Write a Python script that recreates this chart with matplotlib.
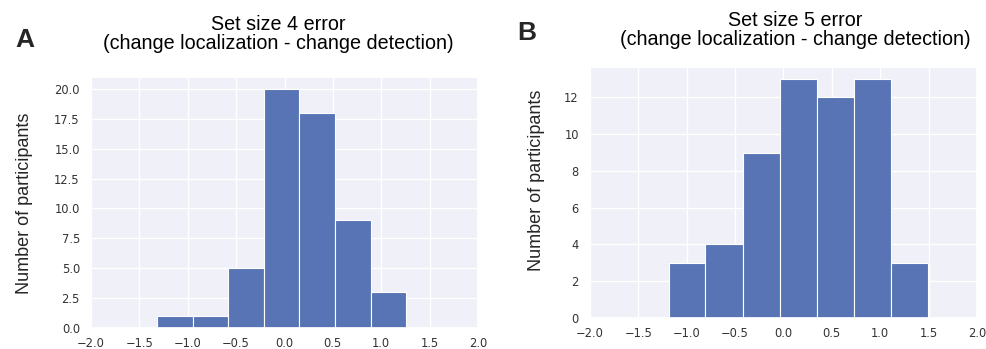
import numpy as np
import matplotlib.pyplot as plt
import seaborn as sns

sns.set_theme(style="darkgrid", rc={"axes.facecolor": "#eff0f8"})

# bin edges and counts
edges_4 = [-1.314, -0.949, -0.581, -0.212, 0.153, 0.522, 0.891, 1.256]
counts_4 = [1, 1, 5, 20, 18, 9, 3]

edges_5 = [-1.187, -0.808, -0.422, -0.040, 0.346, 0.729, 1.115, 1.497]
counts_5 = [3, 4, 9, 13, 12, 13, 3]

x_ticks = [-2.0, -1.5, -1.0, -0.5, 0.0, 0.5, 1.0, 1.5, 2.0]
title_4 = "Set size 4 error\n(change localization - change detection)"
title_5 = "Set size 5 error\n(change localization - change detection)"

W, H = 987, 349
fig = plt.figure(figsize=(W / 100, H / 100), dpi=100)

def px_axes(l, t, r, b):
    return fig.add_axes([l / W, 1 - b / H, (r - l) / W, (b - t) / H])

ax1 = px_axes(91, 77, 478, 328)
ax2 = px_axes(590, 67, 977, 318)

bar_col = "#5874b4"

def draw_hist(ax, edges, counts):
    edges = np.array(edges)
    ax.bar(edges[:-1], counts, width=np.diff(edges), align="edge",
           color=bar_col, edgecolor="white", linewidth=0.8)
    ax.set_xlim(-2.0, 2.0)
    ax.set_xticks(x_ticks)
    ax.set_ylim(0, max(counts) * 1.05)
    ax.tick_params(labelsize=8.3, colors="#333333", pad=2)
    ax.tick_params(axis="x", pad=0.5)
    ax.grid(color="white", linewidth=1.0)

draw_hist(ax1, edges_4, counts_4)
draw_hist(ax2, edges_5, counts_5)
ax1.set_yticks([0, 2.5, 5, 7.5, 10, 12.5, 15, 17.5, 20])
ax1.set_yticklabels(["0.0", "2.5", "5.0", "7.5", "10.0", "12.5", "15.0", "17.5", "20.0"])
ax2.set_yticks([0, 2, 4, 6, 8, 10, 12])

tfont = dict(family="Liberation Sans", fontsize=14.2, color="black")
fig.text(278 / W, 1 - 34 / H, title_4, ha="center", va="center",
         linespacing=1.0, **tfont)
fig.text(795 / W, 1 - 30 / H, title_5, ha="center", va="center",
         linespacing=1.0, **tfont)

fig.text(25 / W, 1 - 203 / H, "Number of participants", rotation=90,
         ha="center", va="center", family="Liberation Sans", fontsize=13)
fig.text(537 / W, 1 - 180 / H, "Number of participants", rotation=90,
         ha="center", va="center", family="Liberation Sans", fontsize=13)

fig.text(25 / W, 1 - 40 / H, "A", ha="center", va="center",
         family="Liberation Sans", fontweight="bold", fontsize=19)
fig.text(527 / W, 1 - 33 / H, "B", ha="center", va="center",
         family="Liberation Sans", fontweight="bold", fontsize=19)

fig.savefig("out.png", dpi=100, facecolor="white")
